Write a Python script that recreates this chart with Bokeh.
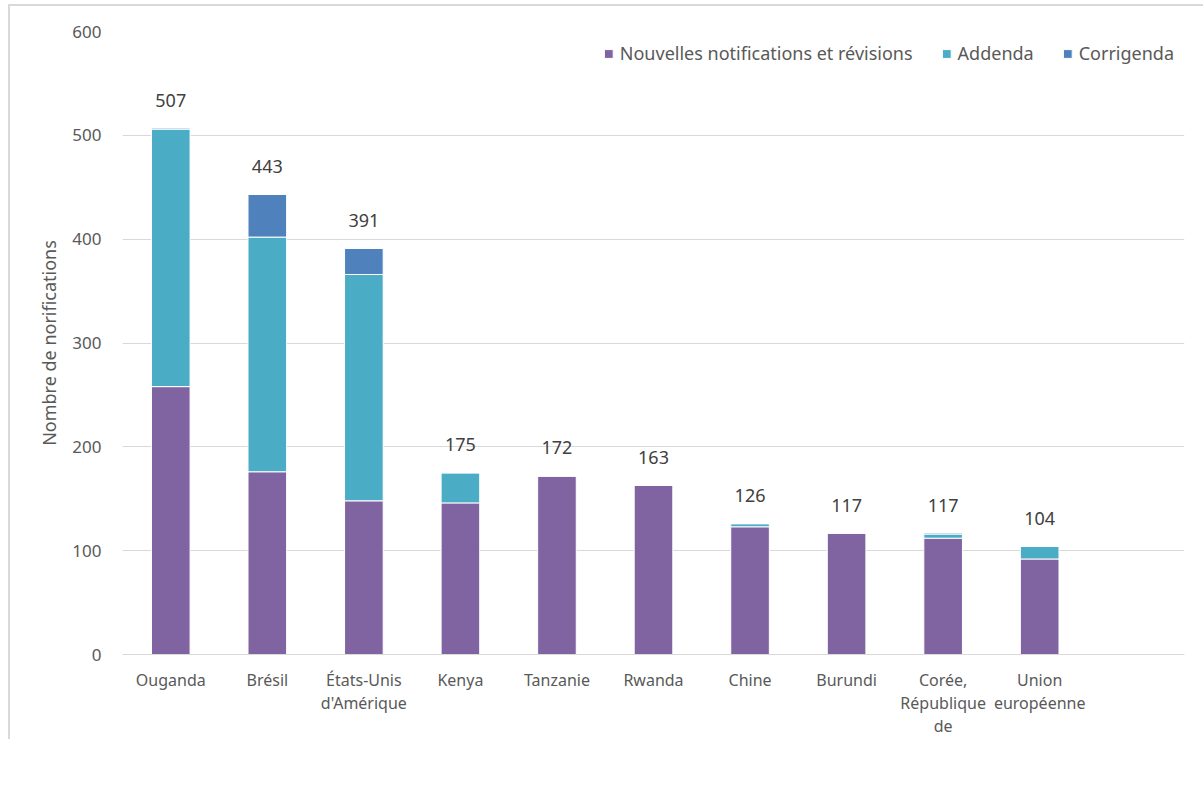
from bokeh.plotting import figure
from bokeh.models import ColumnDataSource, FactorRange, FixedTicker, Legend, LegendItem
from bokeh.core.properties import value
from bokeh.embed import file_html
from bokeh.resources import INLINE

categories = ["Ouganda", "Brésil", "États-Unis\nd'Amérique", "Kenya", "Tanzanie", "Rwanda",
              "Chine", "Burundi", "Corée,\nRépublique\nde", "Union\neuropéenne", " "]
nouvelles = [258, 176, 148, 146, 172, 163, 123, 117, 112, 92, 0]
addenda = [248, 226, 218, 29, 0, 0, 3, 0, 4, 12, 0]
corrigenda = [1, 41, 25, 0, 0, 0, 0, 0, 1, 0, 0]
totals = [507, 443, 391, 175, 172, 163, 126, 117, 117, 104, None]
total_labels = ["507", "443", "391", "175", "172", "163", "126", "117", "117", "104", ""]
series = ["nouvelles", "addenda", "corrigenda"]
series_names = ["Nouvelles notifications et révisions", "Addenda", "Corrigenda"]
colors = ["#8064A2", "#4BACC6", "#4F81BD"]
yticks = [0, 100, 200, 300, 400, 500, 600]

FONT = "Noto Sans"

src = ColumnDataSource(dict(cat=categories, nouvelles=nouvelles, addenda=addenda,
                            corrigenda=corrigenda))
lab = ColumnDataSource(dict(cat=categories[:-1], y=totals[:-1], t=total_labels[:-1]))

p = figure(x_range=FactorRange(*categories), y_range=(0, 600),
           frame_width=1062, frame_height=623, output_backend="svg", toolbar_location=None,
           min_border_left=112, min_border_top=25, min_border_right=19, min_border_bottom=10)
p.styles = {"margin-left": "8px", "margin-top": "4px",
            "border-left": "2px solid #d9d9d9", "border-top": "2px solid #d9d9d9"}

rs = p.vbar_stack(series, x="cat", width=0.4, color=colors, source=src,
                  line_color="white", line_width=1)

p.text(x="cat", y="y", text="t", source=lab, text_align="center", text_baseline="middle",
       y_offset=-28, text_font=value(FONT), text_font_size="18px", text_color="#404040")

p.outline_line_color = None
p.xgrid.grid_line_color = None
p.ygrid.grid_line_color = "#d9d9d9"
p.ygrid.grid_line_width = 1
p.yaxis.ticker = FixedTicker(ticks=yticks)
p.yaxis.axis_line_color = None
p.yaxis.major_tick_line_color = None
p.yaxis.minor_tick_line_color = None
p.yaxis.major_label_text_font = FONT
p.yaxis.major_label_text_font_size = "17px"
p.yaxis.major_label_text_color = "#595959"
p.yaxis.major_label_standoff = 15
p.yaxis.axis_label = "Nombre de norifications"
p.yaxis.axis_label_text_font = FONT
p.yaxis.axis_label_text_font_style = "normal"
p.yaxis.axis_label_text_font_size = "18px"
p.yaxis.axis_label_text_color = "#595959"
p.yaxis.axis_label_standoff = 8

p.xaxis.axis_line_color = "#d9d9d9"
p.xaxis.major_tick_line_color = None
p.xaxis.minor_tick_line_color = None
p.xaxis.major_label_text_font = FONT
p.xaxis.major_label_text_font_size = "16px"
p.xaxis.major_label_text_color = "#595959"
p.xaxis.major_label_text_line_height = 1.05
p.xaxis.major_label_standoff = 8
p.x_range.range_padding = 0
p.x_range.factor_padding = 0

legend = Legend(items=[LegendItem(label=n, renderers=[r]) for n, r in zip(series_names, rs)],
                orientation="horizontal", location="top_right",
                label_text_font=FONT, label_text_font_size="18px", label_text_color="#595959",
                glyph_width=11, glyph_height=11, spacing=28, border_line_color=None,
                background_fill_color="white", background_fill_alpha=1.0,
                margin=10, padding=6, label_standoff=6)
p.add_layout(legend, "center")

open("out.html", "w").write(file_html(p, INLINE))
